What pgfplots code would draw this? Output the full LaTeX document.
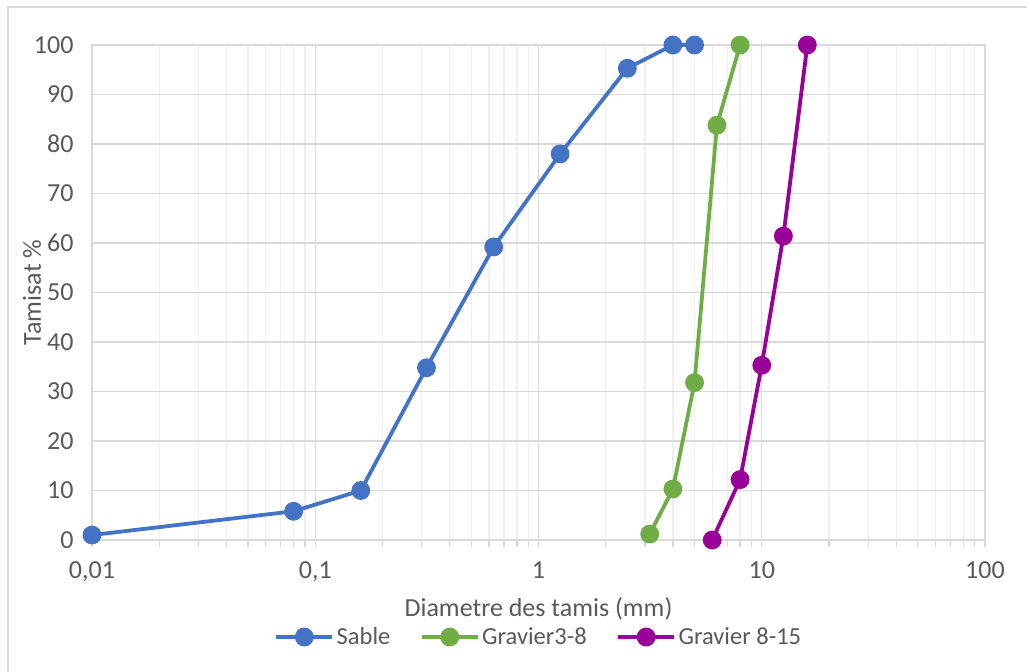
\documentclass[border=0pt]{standalone}
\usepackage{fontspec}
\setmainfont{Carlito}
\usepackage{pgfplots}
\pgfplotsset{compat=1.18}
\definecolor{cblue}{HTML}{4472C4}
\definecolor{cgreen}{HTML}{70AD47}
\definecolor{cpurple}{HTML}{990099}
\definecolor{ctext}{HTML}{595959}
\definecolor{cmaj}{HTML}{D9D9D9}
\definecolor{cmin}{HTML}{EFEFEF}
\newcommand{\chartfont}{\fontsize{26bp}{30bp}\selectfont}
\newcommand{\legfont}{\fontsize{24.5bp}{29bp}\selectfont}
\begin{document}
\begin{tikzpicture}
\useasboundingbox (0,0) rectangle (1027bp,672bp);
\draw[cmaj, line width=2bp] (8bp,-10bp) -- (8bp,665bp) -- (1040bp,665bp);
\begin{axis}[
  at={(92bp,132bp)}, anchor=south west,
  scale only axis, width=893bp, height=495bp,
  xmode=log, log basis x=10,
  xmin=0.01, xmax=100, ymin=0, ymax=100,
  xtick={0.01,0.1,1,10,100},
  xticklabels={{0,01},{0,1},1,10,100},
  minor xtick={0.02,0.03,0.04,0.05,0.06,0.07,0.08,0.09,0.2,0.3,0.4,0.5,0.6,0.7,0.8,0.9,2,3,4,5,6,7,8,9,20,30,40,50,60,70,80,90},
  ytick={0,10,...,100},
  font=\chartfont,
  tick label style={font=\chartfont, text=ctext},
  xticklabel style={yshift=-11bp},
  yticklabel style={xshift=-8bp},
  /pgf/number format/assume math mode=true,
  xmajorgrids, xminorgrids, ymajorgrids,
  major grid style={cmaj, line width=1.3bp},
  minor grid style={cmin, line width=1.3bp},
  axis line style={cmaj, line width=1.3bp},
  xtick pos=bottom, tick align=outside,
  major tick length=7bp, minor tick length=7bp,
  xtick style={cmaj, line width=1.3bp},
  xminorticks=true,
  ytick style={draw=none},
  xlabel={Diametre des tamis (mm)},
  ylabel={Tamisat \%},
  label style={text=ctext, font=\chartfont},
  xlabel style={at={(axis description cs:0.5,0)}, anchor=center, yshift=-69bp},
  ylabel style={at={(axis description cs:-0.067,0.5)}, anchor=center},
  legend style={at={(0.5,0)}, anchor=center, yshift=-97bp, draw=none, fill=none,
    legend columns=-1, font=\legfont, text=ctext,
    nodes={inner sep=1.5bp},
    /tikz/every odd column/.append style={column sep=1bp},
    /tikz/every even column/.append style={column sep=28bp}},
  legend image code/.code={
    \draw[#1, mark=none] (0bp,0bp) -- (56bp,0bp);
    \fill[#1] (28bp,0bp) circle (7.5bp);
  },
  clip=false,
]
\addplot[cblue, line width=3.8bp, mark=*, mark size=7.5bp, mark options={solid}] coordinates {
(0.01,1) (0.08,5.8) (0.16,10) (0.315,34.8) (0.63,59.2) (1.25,78) (2.5,95.3) (4,100) (5,100)};
\addlegendentry{Sable}
\addplot[cgreen, line width=3.8bp, mark=*, mark size=7.5bp] coordinates {
(3.15,1.2) (4,10.3) (5,31.8) (6.3,83.8) (8,100)};
\addlegendentry{Gravier3-8}
\addplot[cpurple, line width=3.8bp, mark=*, mark size=7.5bp] coordinates {
(6,0) (8,12.2) (10,35.3) (12.5,61.4) (16,100)};
\addlegendentry{Gravier 8-15}
\end{axis}
\end{tikzpicture}
\end{document}
